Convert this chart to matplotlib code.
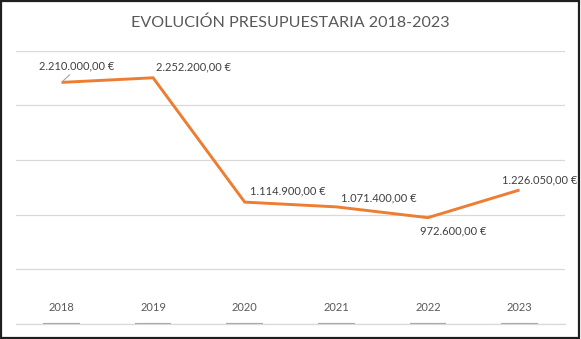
import matplotlib.pyplot as plt
from matplotlib.patches import Rectangle

# ── Data ─────────────────────────────────────────────────────────────────────
years = ['2018', '2019', '2020', '2021', '2022', '2023']
year_values = [2018, 2019, 2020, 2021, 2022, 2023]   # tiny bar series (Excel artefact)
budget = [2210000.00, 2252200.00, 1114900.00, 1071400.00, 972600.00, 1226050.00]

# label offsets in pixels (dx, dy), as placed in the original
label_offsets = [(15, 16), (40, 10.5), (43, 11.3), (43, 8.5), (25, -13), (20, 10)]


def euro(v):
    s = f'{v:,.2f}'.replace(',', 'X').replace('.', ',').replace('X', '.')
    return s + ' €'


FONT = 'Lato'
GRID = '#D9D9D9'
ORANGE = '#ED7D31'

fig = plt.figure(figsize=(5.81, 3.39), dpi=100)
fig.patch.set_facecolor('white')
ax = fig.add_axes([0.027, 0.04425, 0.946, 0.8062])

x = range(len(years))

# tiny bars of the year series, sitting on the baseline
ax.bar(x, year_values, width=0.4, color='#9BAEC3', edgecolor='#9BAEC3',
       lw=1.6, zorder=3)

ax.plot(x, budget, color=ORANGE, lw=2.1, solid_joinstyle='miter',
        solid_capstyle='butt', zorder=4)

for i, (v, (dx, dy)) in enumerate(zip(budget, label_offsets)):
    kw = {}
    if i == 0:
        kw['arrowprops'] = dict(arrowstyle='-', color='#A6A6A6', lw=0.8,
                                shrinkA=0, shrinkB=1, relpos=(0.45, 0.0))
    ax.annotate(euro(v), xy=(i, v), xytext=(dx, dy), textcoords='offset pixels',
                ha='center', va='center', fontsize=8, family=FONT,
                color='#404040', zorder=5, **kw)

ax.set_xlim(-0.5, len(years) - 0.5)
ax.set_ylim(0, 2500000)
ax.set_yticks(range(0, 2500001, 500000))
ax.yaxis.grid(True, color=GRID, lw=0.9)
ax.set_axisbelow(True)
ax.tick_params(axis='y', left=False, labelleft=False)
ax.set_xticks(list(x))
ax.set_xticklabels(years, family=FONT, fontsize=8, color='#595959')
ax.tick_params(axis='x', length=0, pad=-16)
for sp in ['top', 'left', 'right']:
    ax.spines[sp].set_visible(False)
ax.spines['bottom'].set_color(GRID)
ax.spines['bottom'].set_linewidth(0.9)

fig.text(0.5, 1 - 23 / 339, 'EVOLUCIÓN PRESUPUESTARIA 2018-2023',
         ha='center', va='center', fontsize=11.6, family=FONT, color='#595959')

# outer border of the chart object
fig.patches.append(Rectangle((0.0015, 0.003), 0.995, 0.993,
                             transform=fig.transFigure, fill=False,
                             ec='#1F1F1F', lw=1.6))

fig.savefig('out.png', dpi=100, facecolor=fig.get_facecolor())
